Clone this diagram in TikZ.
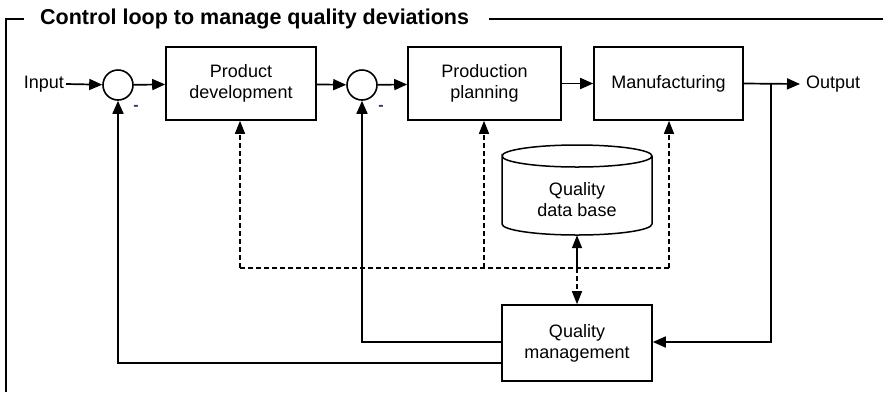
\documentclass[tikz,border=0pt]{standalone}
\usepackage{fontspec}
\setmainfont{Liberation Sans}
\usetikzlibrary{arrows.meta}
\definecolor{minuscol}{RGB}{40,60,110}
\begin{document}
\begin{tikzpicture}[x=1pt,y=-1pt,
  every node/.style={font=\fontsize{18}{21}\selectfont, inner sep=0pt, align=center},
  block/.style={draw, line width=1.6pt, minimum width=#1, minimum height=73},
  block/.default=150,
  summer/.style={draw, line width=1.6pt, circle, minimum size=30},
  conn/.style={line width=1.7pt, -{Triangle[length=13pt,width=11pt]}},
  plainline/.style={line width=1.7pt},
  dashconn/.style={line width=1.5pt, dash pattern=on 5pt off 3pt, -{Triangle[length=13pt,width=10pt]}},
  dashline/.style={line width=1.5pt, dash pattern=on 5pt off 3pt},
  minus/.style={text=minuscol, font=\fontsize{16}{16}\selectfont\bfseries}
]
\useasboundingbox (0,0) rectangle (883,392);
% frame
\node[anchor=west, font=\fontsize{21.5}{24}\selectfont\bfseries] (title) at (40,19) {Control loop to manage quality deviations};
\draw[plainline] (6,392) -- (6,19) -- (24,19);
\draw[plainline] (489,19) -- (883,19);

\node[anchor=east] (in) at (64,84) {Input};
\node[summer] (c1) at (118,85) {};
\node[block=150] (pd) at (241,83.5) {Product\\development};
\node[summer] (c2) at (362,85) {};
\node[block=153] (pp) at (484.5,83.5) {Production\\planning};
\node[block=149] (mf) at (668.5,83.5) {Manufacturing};
\node[anchor=west] (out) at (806,84) {Output};
\node[minus] (m1) at (136,108) {-};
\node[minus] (m2) at (381,108) {-};

% database cylinder
\node[minimum width=150, minimum height=90] (db) at (577,190) {};
\node (dbt) at (577,200) {Quality\\data base};
\draw[line width=1.5pt] (502,156) arc[start angle=180, end angle=360, x radius=75, y radius=11]
  arc[start angle=0, end angle=180, x radius=75, y radius=11] -- (502,224)
  arc[start angle=180, end angle=0, x radius=75, y radius=11] -- (652,156);

\node[block=150, minimum height=76] (qm) at (577,343) {Quality\\management};

\coordinate (br) at (771,84);
\coordinate (j) at (577,268);

\draw[conn] ([xshift=2]in.east) -- (c1);
\draw[conn] (c1) -- (pd);
\draw[conn] (pd) -- (c2);
\draw[conn] (c2) -- (pp);
\draw[conn] (pp) -- (mf);
\draw[conn] (mf.east) -- ([xshift=-6]out.west);
\draw[conn] (br) |- (qm.east |- 0,342);
\draw[conn] (qm.west |- 0,342) -| (c2.south);
\draw[conn] (qm.west |- 0,363) -| (c1.south);

% dashed information lines
\draw[dashline] (240,268) -- (669,268);
\draw[dashconn] (240,268) -- (pd.south -| 240,0);
\draw[dashconn] (484,268) -- (pp.south -| 484,0);
\draw[dashconn] (669,268) -- (mf.south -| 669,0);
\draw[plainline, {Triangle[length=13pt,width=10pt]}-] (db.south) -- (j);
\draw[dashconn] (j) -- (qm.north);
\end{tikzpicture}
\end{document}
